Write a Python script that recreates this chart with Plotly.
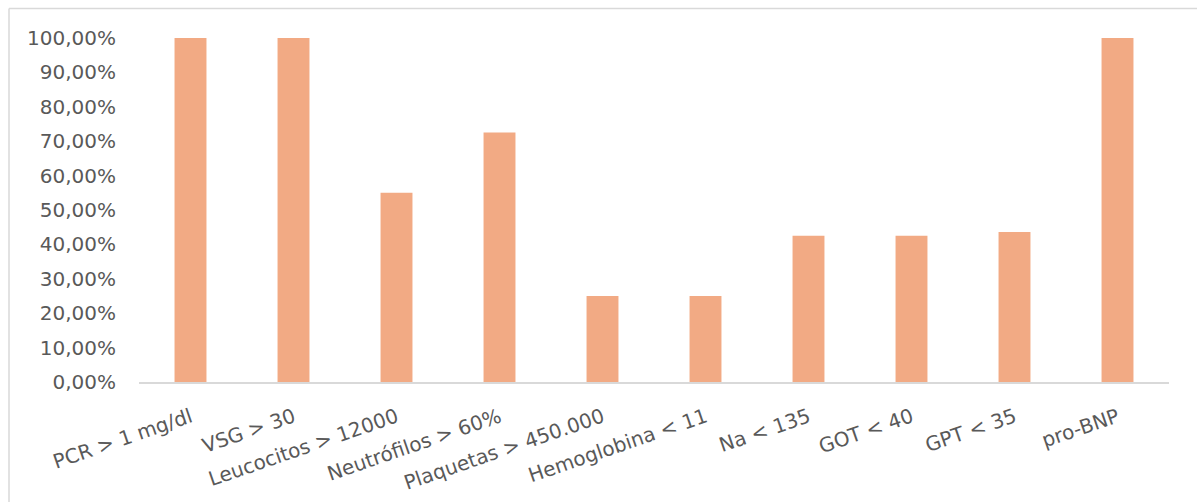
import plotly.graph_objects as go

# Parámetros de laboratorio y porcentaje de pacientes alterados
categorias = [
    "PCR > 1 mg/dl", "VSG > 30", "Leucocitos > 12000", "Neutrófilos > 60%",
    "Plaquetas > 450.000", "Hemoglobina < 11", "Na < 135", "GOT < 40",
    "GPT < 35", "pro-BNP",
]
porcentajes = [100.0, 100.0, 55.0, 72.5, 25.0, 25.0, 42.5, 42.5, 43.6, 100.0]

ticks_y = [0, 10, 20, 30, 40, 50, 60, 70, 80, 90, 100]
etiquetas_y = [f"{v},00%" for v in ticks_y]

W, H = 1197, 502
L, R, T, B = 139, 28, 38, 120
pw, ph = W - L - R, H - T - B

fuente = dict(family="DejaVu Sans", size=20, color="#595959")
borde = "#D9D9D9"

fig = go.Figure(
    go.Bar(
        x=categorias,
        y=porcentajes,
        marker=dict(color="#F2AA84", line=dict(width=0)),
        hoverinfo="x+y",
    )
)

# Marco del área del gráfico (bordes superior e izquierdo)
fig.add_shape(type="line", xref="paper", yref="paper",
              x0=(9 - L) / pw, x1=(W - L) / pw,
              y0=(H - B - 8.5) / ph, y1=(H - B - 8.5) / ph,
              line=dict(color=borde, width=1.5))
fig.add_shape(type="line", xref="paper", yref="paper",
              x0=(9 - L) / pw, x1=(9 - L) / pw,
              y0=(H - B - 8.5) / ph, y1=(H - B - H) / ph,
              line=dict(color=borde, width=1.5))

fig.update_layout(
    width=W, height=H,
    margin=dict(l=L, r=R, t=T, b=B, pad=0),
    paper_bgcolor="white",
    plot_bgcolor="white",
    bargap=0.69,
    showlegend=False,
    font=fuente,
)
fig.update_xaxes(
    tickangle=-19,
    tickfont=fuente,
    showline=True, linecolor=borde, linewidth=2,
    showgrid=False, ticks="",
    ticklabelstandoff=14,
    automargin=False,
)
fig.update_yaxes(
    range=[0, 100],
    tickvals=ticks_y, ticktext=etiquetas_y,
    tickfont=fuente,
    showgrid=False, zeroline=False, showline=False, ticks="",
    ticklabelstandoff=22,
    automargin=False,
)

fig.write_html("out.html")
